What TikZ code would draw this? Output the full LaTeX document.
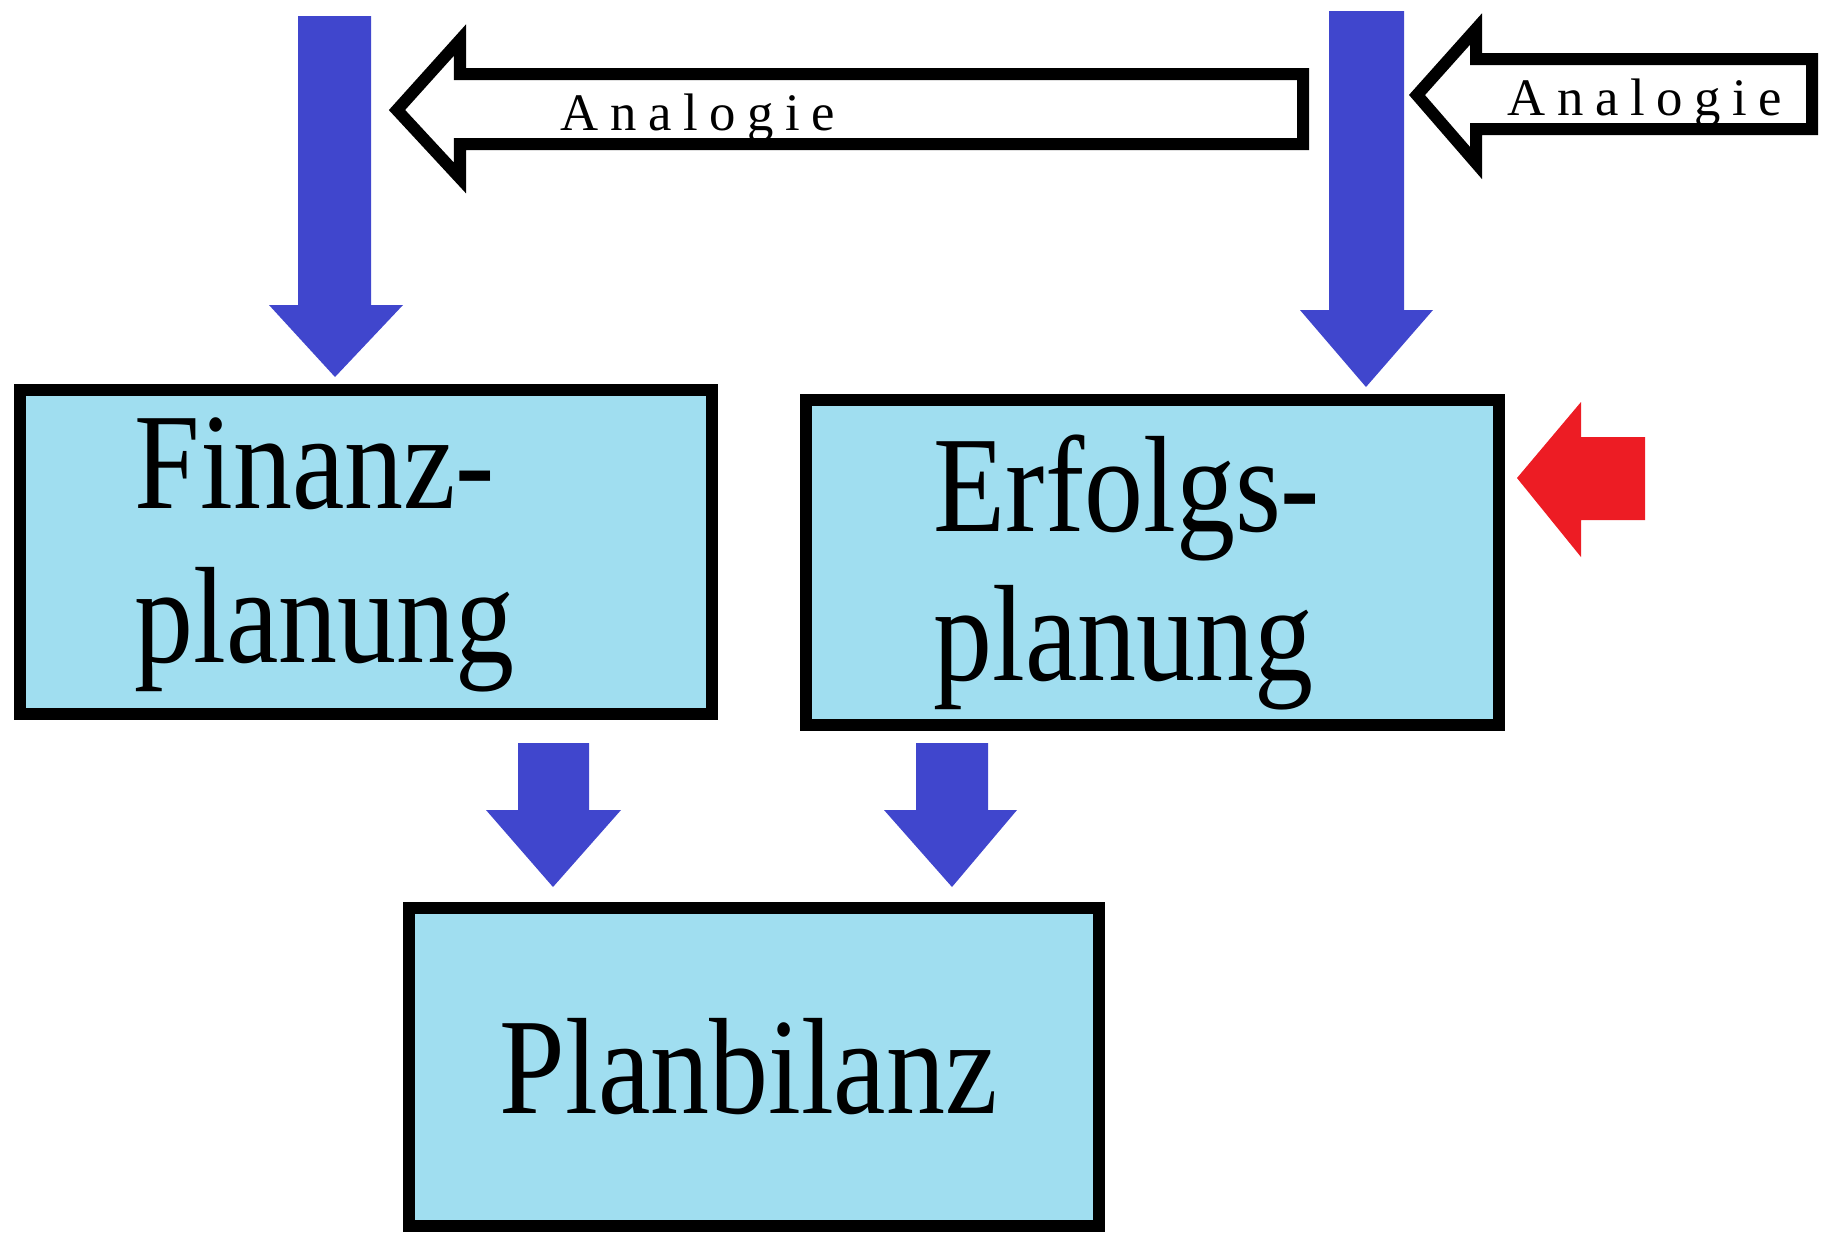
\documentclass[tikz,border=0pt]{standalone}
\usepackage{fontspec}
\setmainfont{Liberation Serif}
\newfontfamily\boxfont[FakeStretch=0.86]{Liberation Serif}
\newfontfamily\labelfont[LetterSpace=22]{Liberation Serif}
\definecolor{boxfill}{RGB}{160,222,240}
\definecolor{flowblue}{RGB}{64,70,205}
\definecolor{alertred}{RGB}{237,28,36}
\begin{document}
\begin{tikzpicture}[x=0.01cm,y=-0.01cm,
  planbox/.style={draw=black, line width=0.12cm, fill=boxfill, inner sep=0pt},
  boxtext/.style={font=\boxfont\fontsize{39}{43.7}\selectfont, inner sep=0pt, align=left, anchor=base west},
  flowarrow/.style={fill=flowblue},
  hollowarrow/.style={draw=black, line width=0.12cm, fill=white, line join=miter},
  analogy/.style={font=\labelfont\fontsize{15}{18}\selectfont, inner sep=0pt, anchor=base west}]
\useasboundingbox (0,0) rectangle (1829,1232);

% planning boxes
\node[planbox, minimum width=6.92cm, minimum height=3.24cm] (finanz) at (366,552) {};
\node[planbox, minimum width=6.93cm, minimum height=3.25cm] (erfolg) at (1152.5,562.5) {};
\node[planbox, minimum width=6.90cm, minimum height=3.18cm] (bilanz) at (754,1067) {};

% box labels (anchored on the baseline of their last line)
\node[boxtext] (finanztext) at (134,662) {Finanz-\\planung};
\node[boxtext, font=\boxfont\fontsize{39}{42.2}\selectfont] (erfolgtext) at (933,680) {Erfolgs-\\planung};
\node[boxtext] (bilanztext) at (499,1113) {Planbilanz};

% hollow analogy arrows
\draw[hollowarrow] (397,110) -- (460,40) -- (460,74) -- (1303,74) -- (1303,144)
  -- (460,144) -- (460,178) -- cycle;
\draw[hollowarrow] (1417,95) -- (1476,29) -- (1476,59) -- (1812,59) -- (1812,129)
  -- (1476,129) -- (1476,163) -- cycle;
\node[analogy] (ana1) at (560,130) {Analogie};
\node[analogy] (ana2) at (1507,115) {Analogie};

% blue flow arrows
\fill[flowarrow] (298,16) -- (371,16) -- (371,305) -- (403,305) -- (335,377)
  -- (269,305) -- (298,305) -- cycle;
\fill[flowarrow] (1329,11) -- (1404,11) -- (1404,310) -- (1433,310) -- (1366,387)
  -- (1300,310) -- (1329,310) -- cycle;
\fill[flowarrow] (518,743) -- (589,743) -- (589,810) -- (621,810) -- (553,887)
  -- (486,810) -- (518,810) -- cycle;
\fill[flowarrow] (916,743) -- (988,743) -- (988,810) -- (1017,810) -- (952,887)
  -- (884,810) -- (916,810) -- cycle;

% red marker arrow
\fill[alertred] (1517,478) -- (1581,402) -- (1581,437) -- (1645,437) -- (1645,520)
  -- (1581,520) -- (1581,557) -- cycle;
\end{tikzpicture}
\end{document}
